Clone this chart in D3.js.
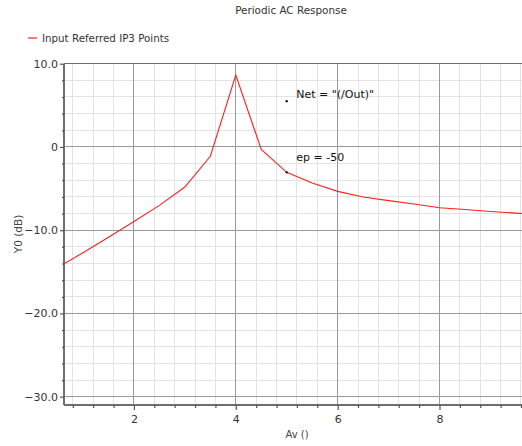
<!DOCTYPE html>
<html>
<head>
<meta charset="utf-8">
<script src="https://cdn.jsdelivr.net/npm/d3@7"></script>
<style>
  html, body { margin: 0; padding: 0; background: #fff; }
  svg { display: block; font-family: "DejaVu Sans", sans-serif; }
</style>
</head>
<body>
<svg id="chart" width="522" height="446"></svg>
<script>
// IP3 sweep: input-referred intercept point vs. Av
const avValues = [0.63, 1.0, 1.5, 2.0, 2.5, 3.0, 3.5, 4.0, 4.5, 5.0, 5.5, 6.0, 6.5, 7.0, 7.5, 8.0, 8.5, 9.0, 9.5, 9.62];
const ip3Values = [-14.05, -12.7, -10.85, -8.95, -7.02, -4.82, -1.12, 8.64, -0.31, -3.05, -4.34, -5.34, -6.02, -6.45, -6.85, -7.3, -7.52, -7.75, -7.95, -8.0];

const seriesName = "Input Referred IP3 Points";
const chartTitle = "Periodic AC Response";
const xLabel = "Av ()";
const yLabel = "Y0 (dB)";

const xMajorTicks = [2, 4, 6, 8];
const yMajorTicks = [10, 0, -10, -20, -30];
const yTickLabels = ["10.0", "0", "-10.0", "-20.0", "-30.0"];

// annotation markers: [av, value, text]
const markerAv = [5.0, 5.0];
const markerValue = [5.5, -3.05];
const markerText = ["Net = \"(/Out)\"", "ep = -50"];

const svg = d3.select("#chart");
const margin = { left: 64, top: 63.7, right: 0, bottom: 41 };
const W = 522, H = 446;

const x = d3.scaleLinear().domain([0.627, 9.62]).range([margin.left, W - margin.right]);
const y = d3.scaleLinear().domain([10, -31.0]).range([margin.top, H - margin.bottom]);

const [x0, x1] = x.range();
const [y0, y1] = y.range();

// minor grid
const xMinor = d3.range(0.8, 9.61, 0.4).filter(v => Math.abs(v / 2 - Math.round(v / 2)) > 1e-6);
const yMinor = d3.range(-30, 10.01, 2).filter(v => Math.abs(v % 10) > 1e-6);

const grid = svg.append("g");
grid.selectAll("line.xm").data(xMinor).join("line")
  .attr("x1", d => x(d)).attr("x2", d => x(d)).attr("y1", y0).attr("y2", y1)
  .attr("stroke", "#e3e3e3").attr("stroke-width", 1).attr("shape-rendering", "crispEdges");
grid.selectAll("line.ym").data(yMinor).join("line")
  .attr("y1", d => y(d)).attr("y2", d => y(d)).attr("x1", x0).attr("x2", x1)
  .attr("stroke", "#e3e3e3").attr("stroke-width", 1).attr("shape-rendering", "crispEdges");

// major grid
grid.selectAll("line.xM").data(xMajorTicks).join("line")
  .attr("x1", d => x(d)).attr("x2", d => x(d)).attr("y1", y0).attr("y2", y1)
  .attr("stroke", "#9a9a9a").attr("stroke-width", 1).attr("shape-rendering", "crispEdges");
grid.selectAll("line.yM").data(yMajorTicks).join("line")
  .attr("y1", d => y(d)).attr("y2", d => y(d)).attr("x1", x0).attr("x2", x1)
  .attr("stroke", "#9a9a9a").attr("stroke-width", 1).attr("shape-rendering", "crispEdges");

// frame: top, left, bottom
const frame = svg.append("g").attr("stroke", "#6e6e6e").attr("stroke-width", 1.5).attr("shape-rendering", "crispEdges");
frame.append("line").attr("x1", x0).attr("x2", x1).attr("y1", y0).attr("y2", y0);
frame.append("line").attr("x1", x0).attr("x2", x0).attr("y1", y0).attr("y2", y1);
frame.append("line").attr("x1", x0).attr("x2", x1).attr("y1", y1).attr("y2", y1);

// axes
const yAxis = d3.axisLeft(y).tickValues(yMajorTicks).tickSize(4).tickPadding(2)
  .tickFormat((d, i) => yTickLabels[i].replace("-", "\u2212"));
const yAx = svg.append("g").attr("transform", `translate(${x0},0)`).call(yAxis);
const yAxMinor = svg.append("g").attr("transform", `translate(${x0},0)`)
  .call(d3.axisLeft(y).tickValues(yMinor).tickSize(2).tickFormat(""));

const xAxis = d3.axisBottom(x).tickValues(xMajorTicks).tickSize(5).tickPadding(5).tickFormat(d3.format("d"));
const xAx = svg.append("g").attr("transform", `translate(0,${y1})`).call(xAxis);
const xAxMinor = svg.append("g").attr("transform", `translate(0,${y1})`)
  .call(d3.axisBottom(x).tickValues(xMinor).tickSize(3).tickFormat(""));

[yAx, yAxMinor, xAx, xAxMinor].forEach(g => {
  g.select(".domain").remove();
  g.selectAll(".tick line").attr("stroke", "#555").attr("stroke-width", 1.2);
  g.selectAll("text").attr("fill", "#333").attr("font-size", 11)
    .attr("font-family", "DejaVu Sans, sans-serif");
});

// clip to plotting area
svg.append("clipPath").attr("id", "plotClip").append("rect")
  .attr("x", x0).attr("y", y0).attr("width", x1 - x0).attr("height", y1 - y0);

const points = avValues.map((v, i) => [v, ip3Values[i]]);
svg.append("path").datum(points)
  .attr("clip-path", "url(#plotClip)")
  .attr("fill", "none").attr("stroke", "#ff2020").attr("stroke-width", 1.1)
  .attr("d", d3.line().x(d => x(d[0])).y(d => y(d[1])));

// markers
const mk = svg.append("g");
markerAv.forEach((a, i) => {
  mk.append("circle").attr("cx", x(a)).attr("cy", y(markerValue[i])).attr("r", 1.2).attr("fill", "#111");
  mk.append("text").attr("x", x(a) + 9.5).attr("y", y(markerValue[i]) - (i === 0 ? 3 : 11))
    .attr("font-size", 11).attr("fill", "#111").text(markerText[i]);
});

// title
svg.append("text").attr("x", 291).attr("y", 14).attr("text-anchor", "middle")
  .attr("font-size", 10.4).attr("fill", "#333").text(chartTitle);

// legend
svg.append("line").attr("x1", 28).attr("x2", 37).attr("y1", 38).attr("y2", 38)
  .attr("stroke", "#ff2020").attr("stroke-width", 1.2);
svg.append("text").attr("x", 42).attr("y", 41.5).attr("font-size", 10.3).attr("fill", "#333").text(seriesName);

// axis labels
svg.append("text").attr("x", 297).attr("y", 438).attr("text-anchor", "middle")
  .attr("font-size", 10).attr("fill", "#444").text(xLabel);
svg.append("text").attr("transform", "translate(22,234) rotate(-90)").attr("text-anchor", "middle")
  .attr("font-size", 10.5).attr("fill", "#444").text(yLabel);
</script>
</body>
</html>
